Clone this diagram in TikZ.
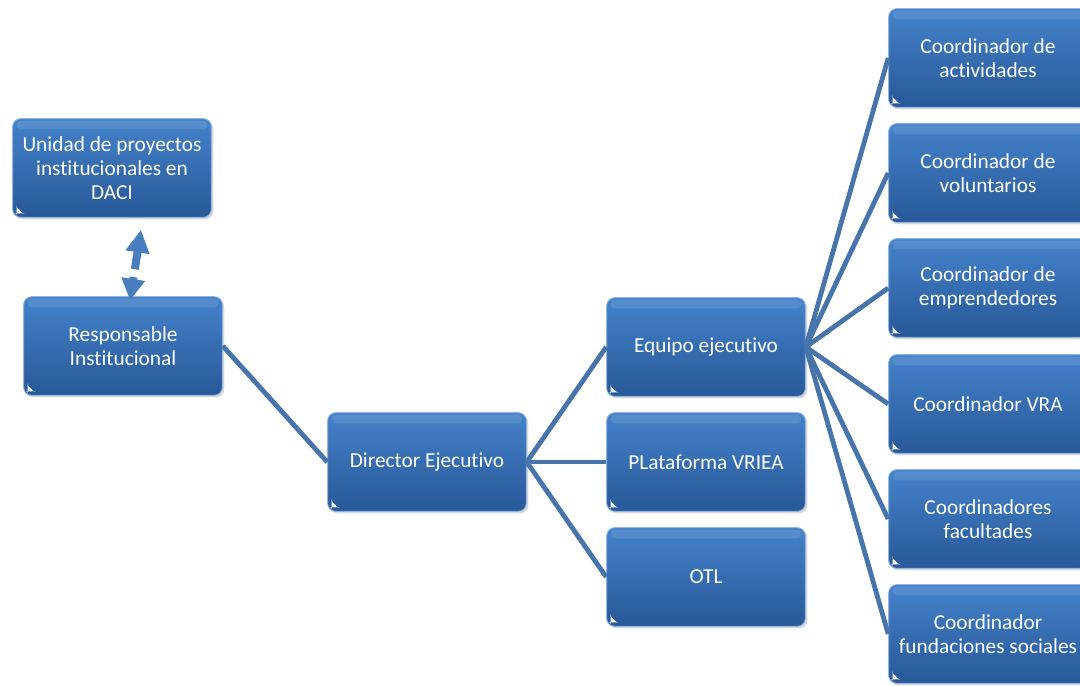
\documentclass[tikz,border=0pt]{standalone}
\usepackage{fontspec}
\setmainfont{Carlito}[Ligatures=NoCommon]
\usetikzlibrary{shadows,arrows.meta}

\definecolor{boxtop}{RGB}{68,130,202}
\definecolor{boxbot}{RGB}{40,88,152}
\definecolor{linkblue}{RGB}{72,116,172}
\definecolor{arrowblue}{RGB}{72,126,192}

\tikzset{
    orgbox/.style={rectangle, rounded corners=6pt, minimum width=149pt, minimum height=74pt,
        align=center, top color=boxtop, bottom color=boxbot, draw=boxtop!60!white, line width=.7pt,
        text=white, font=\fontsize{16}{18}\selectfont,
        drop shadow={opacity=.3, shadow xshift=1.5pt, shadow yshift=-1.5pt},
        path picture={
            \fill[white, opacity=.1, rounded corners=3pt] ([shift={(3pt,-1.5pt)}]path picture bounding box.north west) rectangle ([shift={(-3pt,-8pt)}]path picture bounding box.north east);
            \fill[white] ([shift={(3pt,3pt)}]path picture bounding box.south west) -- ++(4.5pt,0) -- ++(-4.5pt,4.5pt) -- cycle;}},
    link/.style={draw=linkblue, line width=3.6pt},
    duallink/.style={draw=arrowblue, line width=6pt, dash pattern=on 14pt off 6pt,
        {Triangle[length=17pt,width=17pt]}-{Triangle[length=16pt,width=17pt]}},
}

\begin{document}
\begin{tikzpicture}[x=.75pt, y=-.75pt]
    \clip (0,0) rectangle (1080,685);
    \useasboundingbox (0,0) rectangle (1080,685);
    % Left column
    \node[orgbox] (Unidad) at (112,168) {Unidad de proyectos\\institucionales en\\DACI};
    \node[orgbox] (Responsable) at (123,346) {Responsable\\Institucional};
    % Director
    \node[orgbox] (Director) at (427,462) {Director Ejecutivo};
    % Middle column
    \foreach \name/\i/\y in {Equipo ejecutivo/1/347, PLataforma VRIEA/2/462, OTL/3/577} {
        \node[orgbox] (Area-\i) at (706,\y) {\name};
    }
    % Coordinators
    \foreach \name/\i/\y in {Coordinador de\\actividades/1/58, Coordinador de\\voluntarios/2/173,
        Coordinador de\\emprendedores/3/288, Coordinador VRA/4/404,
        Coordinadores\\facultades/5/519, Coordinador\\fundaciones sociales/6/634} {
        \node[orgbox] (Coord-\i) at (988,\y) {\name};
    }
    % Links
    \draw[duallink] ([shift={(21.75pt,-9pt)}]Unidad.south) -- ([shift={(5.25pt,-3pt)}]Responsable.north);
    \draw[link] (Responsable.east) -- (Director.west);
    \foreach \i in {1,2,3} {
        \draw[link] (Director.east) -- (Area-\i.west);
    }
    \foreach \i in {1,...,6} {
        \draw[link] (Area-1.east) -- (Coord-\i.west);
    }
\end{tikzpicture}
\end{document}
